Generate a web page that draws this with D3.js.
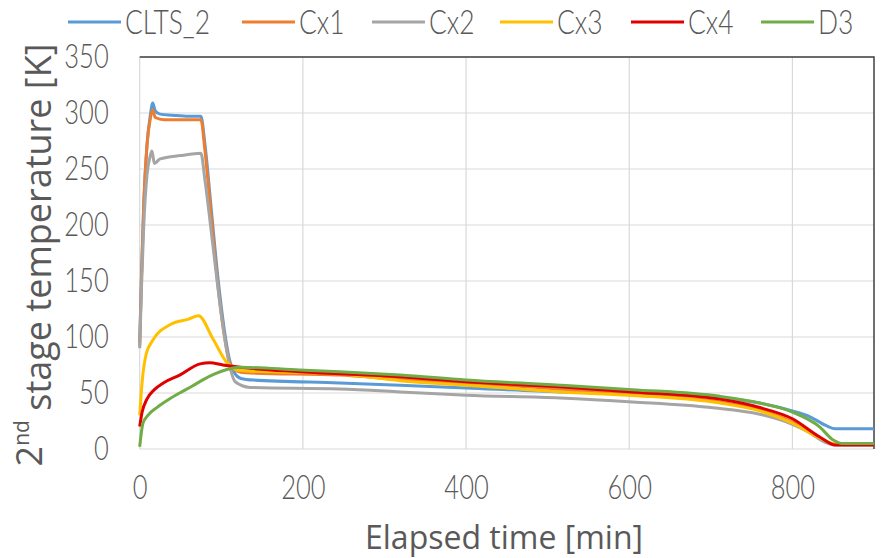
<!DOCTYPE html>
<html>
<head>
<meta charset="utf-8">
<script src="https://cdn.jsdelivr.net/npm/d3@7"></script>
<style>
  body { margin: 0; background: #fff; }
  svg text { fill: #595959; }
</style>
</head>
<body>
<div id="chart"></div>
<script>
// series names and colours (Excel default palette)
const seriesNames = ["CLTS_2", "Cx1", "Cx2", "Cx3", "Cx4", "D3"];
const seriesColors = ["#5B9BD5", "#ED7D31", "#A5A5A5", "#FFC000", "#E00000", "#70AD47"];

// [time (min), temperature (K)]
const clts2 = [[0,95],[2,150],[5,220],[9,272],[13,298],[16,309],[19,302],[25,299],[40,298],[60,297],[75,297],
  [80,272],[88,212],[96,152],[104,105],[110,80],[116,68],[124,63],[140,61.5],[245,59],[319,57],[400,54.5],
  [515,51],[600,49.5],[711,46],[760,41],[800,34],[821,29],[841,21],[853,18],[900,18]];
const cx1 = [[0,92],[2,150],[5,218],[9,272],[13,295],[16,303],[19,296],[30,294],[50,294],[75,294],
  [80,266],[88,205],[96,145],[104,100],[110,78],[118,70],[130,68],[245,66],[319,62],[400,59],[515,53.6],
  [600,48.5],[711,42],[760,35],[800,24],[820,16],[840,7],[855,4],[900,4]];
const cx2 = [[0,90],[2,140],[5,200],[9,245],[13,262],[15,266],[18,255],[25,259],[50,262],[75,264],
  [80,240],[90,180],[100,120],[110,75],[117,60],[135,55],[245,53.5],[319,51],[400,48],[515,45.5],
  [604,42],[700,37],[760,31],[800,22],[820,15],[840,6],[855,3.5],[900,3.5]];
const cx3 = [[0,30],[3,60],[8,85],[16,97],[37,111],[60,116],[72,119],[90,98],[107,77],[123,70],[245,67],
  [319,61],[400,57],[515,51],[600,48],[711,41],[760,34],[800,23],[830,11],[855,4],[900,4]];
const cx4 = [[0,20],[3,33],[8.5,44],[18,53],[29,59],[49,66],[74,76],[86,77],[102,75],[123,73],[196,69],
  [319,64.5],[400,60],[515,55.6],[604,51],[711,44.6],[760,37],[800,27],[833,11],[853,3.6],[900,3.5]];
const d3s = [[0,2],[4,23],[10,30],[21,37],[35,44],[49,50],[64,56],[78,62],[92,67],[107,71],[123,73],
  [196,70.5],[245,69],[319,66],[400,61.6],[515,57],[604,53],[711,47],[760,41],[800,33],[833,20],[850,8],
  [860,5],[900,5]];
const seriesData = [clts2, cx1, cx2, cx3, cx4, d3s];

const xTicks = [0, 200, 400, 600, 800];
const yTicks = [0, 50, 100, 150, 200, 250, 300, 350];

const width = 883, height = 558;
const margin = {left: 139.7, right: 9, top: 57, bottom: 109};

const svg = d3.select("#chart").append("svg")
  .attr("width", width)
  .attr("height", height);

const x = d3.scaleLinear().domain([0, 900]).range([margin.left, width - margin.right]);
const y = d3.scaleLinear().domain([0, 350]).range([height - margin.bottom, margin.top]);

// gridlines
svg.append("g")
  .selectAll("line.h")
  .data(yTicks)
  .join("line")
  .attr("x1", x(0)).attr("x2", x(900))
  .attr("y1", d => y(d)).attr("y2", d => y(d))
  .attr("stroke", "#d9d9d9").attr("stroke-width", 1.2);

svg.append("g")
  .selectAll("line.v")
  .data(xTicks)
  .join("line")
  .attr("x1", d => x(d)).attr("x2", d => x(d))
  .attr("y1", y(0)).attr("y2", y(350))
  .attr("stroke", "#d9d9d9").attr("stroke-width", 1.2);

// plot border top and right (dark)
svg.append("path")
  .attr("d", `M${x(0)},${y(350)}H${x(900)}V${y(0)}`)
  .attr("fill", "none")
  .attr("stroke", "#404040")
  .attr("stroke-width", 1.5);

// tick / legend text is tall and narrow in the picture, so squeeze it
const tickFont = "Lato, sans-serif";
const squeeze = 0.75;

const xAxis = svg.append("g")
  .attr("transform", `translate(0,${y(0)})`)
  .call(d3.axisBottom(x).tickValues(xTicks).tickSize(0).tickPadding(26));
xAxis.select(".domain").remove();
xAxis.selectAll("text")
  .style("font-family", tickFont)
  .style("font-size", "34px")
  .style("font-weight", 300)
  .attr("fill", "#595959")
  .attr("transform", `scale(${squeeze},1)`);

const yAxis = svg.append("g")
  .attr("transform", `translate(${x(0)},0)`)
  .call(d3.axisLeft(y).tickValues(yTicks).tickSize(0).tickPadding(31 / squeeze));
yAxis.select(".domain").remove();
yAxis.selectAll("text")
  .style("font-family", tickFont)
  .style("font-size", "34px")
  .style("font-weight", 300)
  .attr("fill", "#595959")
  .attr("transform", `scale(${squeeze},1)`);

// series
const line = d3.line()
  .x(d => x(d[0]))
  .y(d => y(d[1]))
  .curve(d3.curveMonotoneX);

svg.append("g")
  .selectAll("path")
  .data(seriesData)
  .join("path")
  .attr("d", line)
  .attr("fill", "none")
  .attr("stroke", (d, i) => seriesColors[i])
  .attr("stroke-width", 3)
  .attr("stroke-linejoin", "round");

// legend
const legendSqueeze = 0.8;
const legendX = [68, 242, 372, 500, 631, 761];
const legend = svg.append("g")
  .selectAll("g")
  .data(seriesNames)
  .join("g")
  .attr("transform", (d, i) => `translate(${legendX[i]},22)`);
legend.append("line")
  .attr("x1", 0).attr("x2", 53)
  .attr("stroke", (d, i) => seriesColors[i])
  .attr("stroke-width", 3);
legend.append("text")
  .attr("x", 57 / legendSqueeze)
  .attr("dy", "0.35em")
  .attr("transform", `scale(${legendSqueeze},1)`)
  .style("font-family", tickFont)
  .style("font-size", "33px")
  .style("font-weight", 300)
  .text(d => d);

// axis titles
const titleFont = "'Open Sans', sans-serif";
svg.append("text")
  .attr("x", 504)
  .attr("y", 549)
  .attr("text-anchor", "middle")
  .style("font-family", titleFont)
  .style("font-size", "32px")
  .text("Elapsed time [min]");

const yTitle = svg.append("text")
  .attr("transform", `translate(42,${(y(0) + y(350)) / 2 + 2}) rotate(-90)`)
  .attr("text-anchor", "middle")
  .style("font-family", titleFont)
  .style("font-size", "36px");
yTitle.append("tspan").text("2");
yTitle.append("tspan").attr("dy", "-0.6em").style("font-size", "21px").text("nd");
yTitle.append("tspan").attr("dy", "0.6em").text(" stage temperature [K]");
</script>
</body>
</html>
